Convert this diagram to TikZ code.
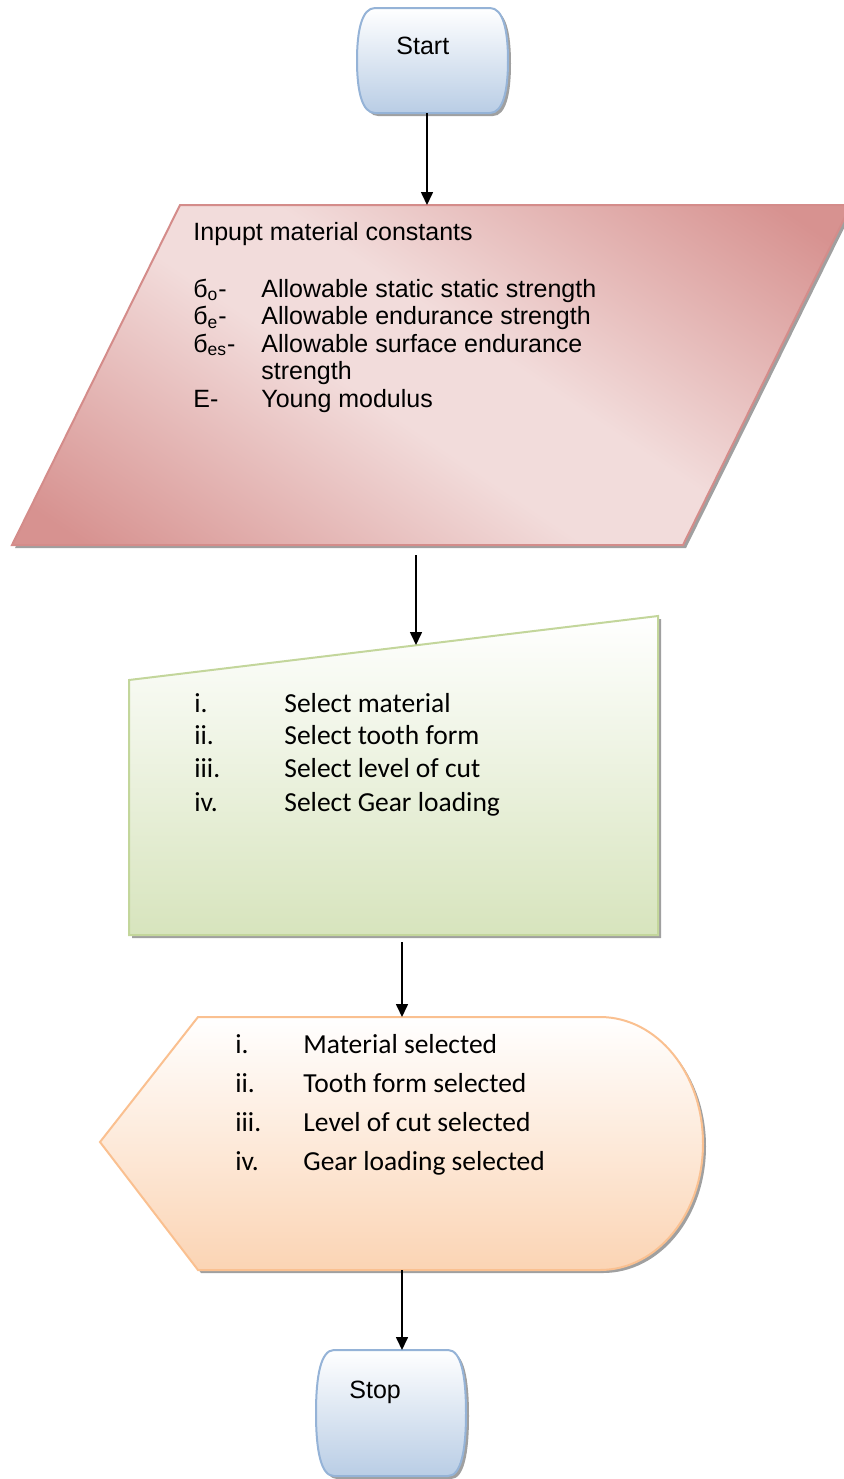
\documentclass[tikz,border=0pt]{standalone}
\usepackage{fontspec}
\setmainfont{Liberation Sans}
\newfontfamily\calib{Carlito}
\usetikzlibrary{arrows.meta,shadings}

\definecolor{blueB}{RGB}{149,179,215}
\definecolor{blueF}{RGB}{185,205,229}
\definecolor{pinkB}{RGB}{212,140,138}
\definecolor{pinkD}{RGB}{215,146,144}
\definecolor{pinkL}{RGB}{242,220,219}
\definecolor{greenB}{RGB}{195,214,155}
\definecolor{greenF}{RGB}{215,228,189}
\definecolor{orangeB}{RGB}{250,192,144}
\definecolor{orangeF}{RGB}{251,212,180}
\definecolor{shadowC}{RGB}{160,160,160}

\pgfdeclarehorizontalshading{pinkdiag}{100bp}{color(0bp)=(pinkD); color(19bp)=(pinkD); color(45bp)=(pinkL); color(55bp)=(pinkL); color(81bp)=(pinkD); color(100bp)=(pinkD)}

\tikzset{
  arialtxt/.style={inner sep=0pt, anchor=base west, font=\fontsize{12.5}{15}\selectfont},
  calibtxt/.style={inner sep=0pt, anchor=base west, font=\calib\fontsize{13.75}{16}\selectfont},
  shadowfill/.style={fill=shadowC, draw=none, shift={(3,3)}},
  flowarrow/.style={draw=black, line width=0.8pt, -{Triangle[length=6.5pt,width=6pt]}},
  termbox/.style={draw=blueB, line width=1pt, top color=white, bottom color=blueF},
  inbox/.style={draw=pinkB, line width=1pt, shading=pinkdiag, shading angle=56},
  manbox/.style={draw=greenB, line width=1pt, top color=white, bottom color=greenF},
  dispbox/.style={draw=orangeB, line width=1pt, top color=white, bottom color=orangeF}
}

\begin{document}
\begin{tikzpicture}[x=0.5pt,y=-0.5pt]
\useasboundingbox (0,0) rectangle (844,1479);
\clip (0,0) rectangle (844,1479);

% ---------- Start terminator ----------
\fill[shadowfill] (375,8) -- (490,8) .. controls (503,8) and (508,30) .. (508,60.5) .. controls (508,91) and (503,113) .. (490,113) -- (375,113) .. controls (362,113) and (357,91) .. (357,60.5) .. controls (357,30) and (362,8) .. (375,8) -- cycle;
\path[termbox] (375,8) -- (490,8) .. controls (503,8) and (508,30) .. (508,60.5) .. controls (508,91) and (503,113) .. (490,113) -- (375,113) .. controls (362,113) and (357,91) .. (357,60.5) .. controls (357,30) and (362,8) .. (375,8) -- cycle;
\node[arialtxt] (start) at (396,54) {Start};
\coordinate (startB) at (427,113);

% ---------- Input parallelogram ----------
\fill[shadowfill] (180,205) -- (851,205) -- (683,545) -- (12,545) -- cycle;
\path[inbox] (180,205) -- (851,205) -- (683,545) -- (12,545) -- cycle;
\coordinate (inT) at (427,205);
\coordinate (inB) at (416,555);
\node[arialtxt] (inp) at (193,240) {Inpupt material constants};
\node[arialtxt] (s1) at (193,297) {б\textsubscript{o}-};
\node[arialtxt] (d1) at (261,297) {Allowable static static strength};
\node[arialtxt] (s2) at (193,324.5) {б\textsubscript{e}-};
\node[arialtxt] (d2) at (261,324.5) {Allowable endurance strength};
\node[arialtxt] (s3) at (193,352) {б\textsubscript{es}-};
\node[arialtxt] (d3) at (261,352) {Allowable surface endurance};
\node[arialtxt] (d3b) at (261,379.5) {strength};
\node[arialtxt] (s4) at (193,407) {E-};
\node[arialtxt] (d4) at (261,407) {Young modulus};

% ---------- Manual input ----------
\fill[shadowfill] (129,680) -- (658,616) -- (658,935) -- (129,935) -- cycle;
\path[manbox] (129,680) -- (658,616) -- (658,935) -- (129,935) -- cycle;
\coordinate (manT) at (416,645);
\coordinate (manB) at (402,942);
\node[calibtxt] (g1n) at (194,712) {i.};
\node[calibtxt] (g1) at (284,712) {Select material};
\node[calibtxt] (g2n) at (194,744.5) {ii.};
\node[calibtxt] (g2) at (284,744.5) {Select tooth form};
\node[calibtxt] (g3n) at (194,777.5) {iii.};
\node[calibtxt] (g3) at (284,777.5) {Select level of cut};
\node[calibtxt] (g4n) at (194,811) {iv.};
\node[calibtxt] (g4) at (284,811) {Select Gear loading};

% ---------- Display ----------
\fill[shadowfill] (198,1017) -- (600,1017) .. controls (657,1017) and (703,1073) .. (703,1143.5) .. controls (703,1214) and (657,1270) .. (600,1270) -- (198,1270) -- (100,1142) -- cycle;
\path[dispbox] (198,1017) -- (600,1017) .. controls (657,1017) and (703,1073) .. (703,1143.5) .. controls (703,1214) and (657,1270) .. (600,1270) -- (198,1270) -- (100,1142) -- cycle;
\coordinate (dispT) at (402,1017);
\coordinate (dispB) at (402,1270);
\node[calibtxt] (o1n) at (235,1053) {i.};
\node[calibtxt] (o1) at (303,1053) {Material selected};
\node[calibtxt] (o2n) at (235,1092) {ii.};
\node[calibtxt] (o2) at (303,1092) {Tooth form selected};
\node[calibtxt] (o3n) at (235,1131) {iii.};
\node[calibtxt] (o3) at (303,1131) {Level of cut selected};
\node[calibtxt] (o4n) at (235,1170) {iv.};
\node[calibtxt] (o4) at (303,1170) {Gear loading selected};

% ---------- Stop terminator ----------
\fill[shadowfill] (334,1350) -- (448,1350) .. controls (461,1350) and (466,1375) .. (466,1413) .. controls (466,1451) and (461,1476) .. (448,1476) -- (334,1476) .. controls (321,1476) and (316,1451) .. (316,1413) .. controls (316,1375) and (321,1350) .. (334,1350) -- cycle;
\path[termbox] (334,1350) -- (448,1350) .. controls (461,1350) and (466,1375) .. (466,1413) .. controls (466,1451) and (461,1476) .. (448,1476) -- (334,1476) .. controls (321,1476) and (316,1451) .. (316,1413) .. controls (316,1375) and (321,1350) .. (334,1350) -- cycle;
\node[arialtxt] (stop) at (349,1398) {Stop};
\coordinate (stopT) at (402,1350);

% ---------- Connectors ----------
\draw[flowarrow] (startB) -- (inT);
\draw[flowarrow] (inB) -- (manT);
\draw[flowarrow] (manB) -- (dispT);
\draw[flowarrow] (dispB) -- (stopT);
\end{tikzpicture}
\end{document}
